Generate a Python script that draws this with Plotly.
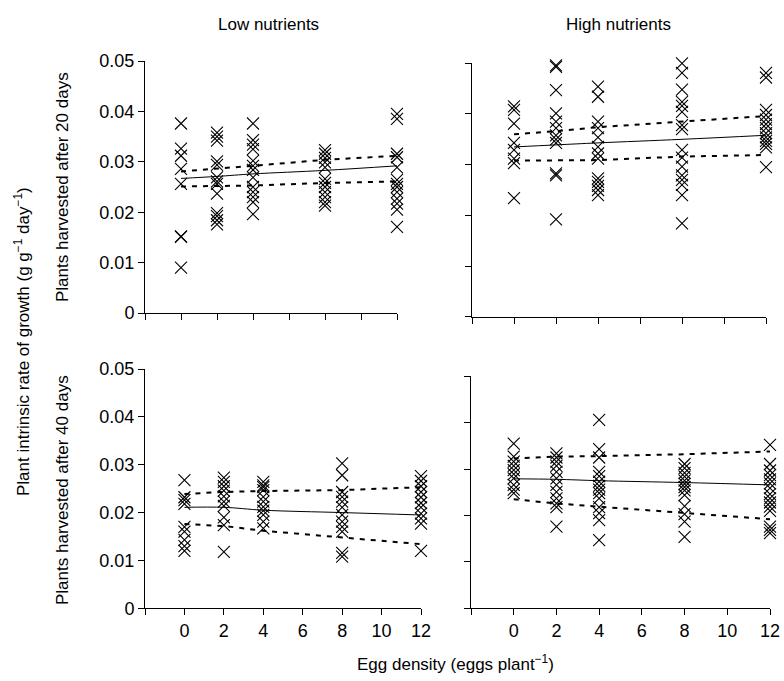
import plotly.graph_objects as go

W, H = 784, 681

densities = [0, 2, 4, 8, 12]
x_tickvals = [-2, 0, 2, 4, 6, 8, 10, 12]
x_ticktext = ["", "0", "2", "4", "6", "8", "10", "12"]
y_tickvals = [0, 0.01, 0.02, 0.03, 0.04, 0.05]
y_ticktext = ["0", "0.01", "0.02", "0.03", "0.04", "0.05"]

# Low nutrients, harvested after 20 days (one list per egg density)
low20_y = [
    [0.0376, 0.0326, 0.0312, 0.0286, 0.0256, 0.0152, 0.0151, 0.0090],
    [0.0358, 0.0350, 0.0342, 0.0301, 0.0294, 0.0269, 0.0261, 0.0256, 0.0237, 0.0198, 0.0192, 0.0184, 0.0176],
    [0.0376, 0.0343, 0.0334, 0.0325, 0.0302, 0.0292, 0.0284, 0.0269, 0.0250, 0.0240, 0.0230, 0.0220, 0.0196],
    [0.0323, 0.0316, 0.0308, 0.0299, 0.0289, 0.0266, 0.0258, 0.0250, 0.0240, 0.0230, 0.0220, 0.0213],
    [0.0395, 0.0385, 0.0316, 0.0309, 0.0289, 0.0264, 0.0256, 0.0250, 0.0240, 0.0227, 0.0217, 0.0205, 0.0171],
]
# High nutrients, harvested after 20 days
high20_y = [
    [0.0415, 0.0408, 0.0381, 0.0343, 0.0329, 0.0312, 0.0303, 0.0234],
    [0.0496, 0.0493, 0.0447, 0.0401, 0.0385, 0.0372, 0.0358, 0.0350, 0.0343, 0.0283, 0.0279, 0.0192],
    [0.0454, 0.0434, 0.0385, 0.0372, 0.0354, 0.0335, 0.0322, 0.0312, 0.0273, 0.0266, 0.0258, 0.0250, 0.0240],
    [0.0500, 0.0481, 0.0448, 0.0424, 0.0416, 0.0404, 0.0378, 0.0370, 0.0329, 0.0314, 0.0296, 0.0279, 0.0270, 0.0260, 0.0240, 0.0184],
    [0.0481, 0.0472, 0.0408, 0.0398, 0.0389, 0.0380, 0.0372, 0.0362, 0.0354, 0.0347, 0.0341, 0.0334, 0.0295],
]
# Low nutrients, harvested after 40 days
low40_y = [
    [0.0268, 0.0232, 0.0226, 0.0218, 0.0170, 0.0160, 0.0143, 0.0130, 0.0120],
    [0.0273, 0.0264, 0.0255, 0.0246, 0.0234, 0.0223, 0.0214, 0.0190, 0.0174, 0.0118],
    [0.0264, 0.0257, 0.0253, 0.0247, 0.0233, 0.0223, 0.0212, 0.0204, 0.0195, 0.0181, 0.0167],
    [0.0303, 0.0278, 0.0243, 0.0233, 0.0223, 0.0211, 0.0195, 0.0181, 0.0170, 0.0160, 0.0116, 0.0108],
    [0.0276, 0.0266, 0.0255, 0.0243, 0.0232, 0.0220, 0.0211, 0.0198, 0.0188, 0.0177, 0.0120],
]
# High nutrients, harvested after 40 days
high40_y = [
    [0.0355, 0.0327, 0.0316, 0.0307, 0.0298, 0.0289, 0.0280, 0.0266, 0.0256, 0.0248],
    [0.0334, 0.0325, 0.0316, 0.0307, 0.0294, 0.0280, 0.0266, 0.0251, 0.0237, 0.0226, 0.0218, 0.0176],
    [0.0406, 0.0343, 0.0325, 0.0294, 0.0285, 0.0273, 0.0264, 0.0256, 0.0248, 0.0237, 0.0218, 0.0205, 0.0190, 0.0147],
    [0.0311, 0.0302, 0.0292, 0.0284, 0.0275, 0.0268, 0.0261, 0.0254, 0.0244, 0.0220, 0.0203, 0.0187, 0.0154],
    [0.0352, 0.0311, 0.0297, 0.0287, 0.0278, 0.0269, 0.0259, 0.0246, 0.0237, 0.0228, 0.0219, 0.0210, 0.0176, 0.0169, 0.0162],
]

# Fitted line and confidence bounds at each egg density
fit_x = [0, 2, 4, 8, 12]
low20_fit = [0.0267, 0.0271, 0.0276, 0.0283, 0.0292]
low20_up = [0.0281, 0.0286, 0.0292, 0.0304, 0.0312]
low20_lo = [0.0251, 0.0252, 0.0253, 0.0258, 0.0261]
high20_fit = [0.0335, 0.0339, 0.0343, 0.0350, 0.0358]
high20_up = [0.0360, 0.0366, 0.0374, 0.0385, 0.0396]
high20_lo = [0.0308, 0.0308, 0.0309, 0.0316, 0.0319]
low40_fit = [0.0211, 0.0211, 0.0205, 0.0200, 0.0195]
low40_up = [0.0239, 0.0243, 0.0245, 0.0247, 0.0253]
low40_lo = [0.0176, 0.0172, 0.0162, 0.0148, 0.0134]
high40_fit = [0.0279, 0.0278, 0.0275, 0.0271, 0.0266]
high40_up = [0.0323, 0.0327, 0.0328, 0.0332, 0.0338]
high40_lo = [0.0235, 0.0226, 0.0219, 0.0205, 0.0192]

col_titles = ["Low nutrients", "High nutrients"]
row_titles = ["Plants harvested after 20 days", "Plants harvested after 40 days"]
y_title = "Plant intrinsic rate of growth (g g<sup>\u22121</sup> day<sup>\u22121</sup>)"
x_title = "Egg density (eggs plant<sup>\u22121</sup>)"

FONT = "Liberation Sans, Arial, sans-serif"

def fx(px):
    return px / W

def fy(py):
    return 1 - py / H

# panel pixel boxes: (x_left, x_right, y_top(0.05), y_bottom(0))
panels = [
    ("x", "y", (145, 397, 61, 313), low20_y, low20_fit, low20_up, low20_lo, False, True),
    ("x2", "y2", (472, 766, 63.3, 316.7), high20_y, high20_fit, high20_up, high20_lo, False, False),
    ("x3", "y3", (145, 421, 369, 608.3), low40_y, low40_fit, low40_up, low40_lo, True, True),
    ("x4", "y4", (471, 770, 376.3, 608.3), high40_y, high40_fit, high40_up, high40_lo, True, False),
]

fig = go.Figure()
layout = {}
for i, (xa, ya, box, ys, fit, up, lo, showx, showy) in enumerate(panels):
    xs, ypts = [], []
    for d, vals in zip(densities, ys):
        xs += [d] * len(vals)
        ypts += vals
    fig.add_trace(go.Scatter(
        x=xs, y=ypts, mode="markers", xaxis=xa, yaxis=ya,
        marker=dict(symbol="x-thin", size=12, line=dict(color="black", width=1.1), color="black"),
        cliponaxis=False, showlegend=False, hoverinfo="skip"))
    fig.add_trace(go.Scatter(
        x=fit_x, y=fit, mode="lines", xaxis=xa, yaxis=ya, line_shape="spline",
        line=dict(color="black", width=1), showlegend=False, hoverinfo="skip"))
    for b in (up, lo):
        fig.add_trace(go.Scatter(
            x=fit_x, y=b, mode="lines", xaxis=xa, yaxis=ya,
            line=dict(color="black", width=2, dash="5px,6px"), showlegend=False, hoverinfo="skip"))
    x0, x1, yt, yb = box
    suffix = "" if i == 0 else str(i + 1)
    layout["xaxis" + suffix] = dict(
        domain=[fx(x0), fx(x1)], range=[-2, 12], anchor=ya, automargin=False,
        tickmode="array", tickvals=x_tickvals, ticktext=x_ticktext, ticklabeloverflow="allow",
        showticklabels=showx, ticks="outside", ticklen=6, tickwidth=1, tickcolor="black",
        showline=True, linecolor="black", linewidth=1, showgrid=False, zeroline=False,
        tickfont=dict(family=FONT, size=18, color="black"))
    layout["yaxis" + suffix] = dict(
        domain=[fy(yb), fy(yt)], range=[0, 0.05], anchor=xa, automargin=False,
        tickmode="array", tickvals=y_tickvals, ticktext=y_ticktext, ticklabeloverflow="allow",
        showticklabels=showy, ticks="outside", ticklen=6, tickwidth=1, tickcolor="black",
        showline=True, linecolor="black", linewidth=1, showgrid=False, zeroline=False,
        tickfont=dict(family=FONT, size=18, color="black"))

def ann(text, px, py, angle=0):
    return dict(text=text, x=fx(px), y=fy(py), xref="paper", yref="paper", showarrow=False,
                xanchor="center", yanchor="middle", textangle=angle,
                font=dict(family=FONT, size=17, color="black"))

annotations = [
    ann(col_titles[0], 268, 25),
    ann(col_titles[1], 618, 25),
    ann(row_titles[0], 62, 187, -90),
    ann(row_titles[1], 62, 490, -90),
    ann(y_title, 22, 342, -90),
    ann(x_title, 455, 663),
]

fig.update_layout(
    width=W, height=H, margin=dict(l=0, r=0, t=0, b=0, pad=0, autoexpand=False),
    paper_bgcolor="white", plot_bgcolor="white", hovermode=False,
    annotations=annotations, **layout)

fig.write_html("out.html",
               config={"displayModeBar": False, "staticPlot": True},
               post_script="document.body.style.margin='0';document.body.style.overflow='hidden';")
